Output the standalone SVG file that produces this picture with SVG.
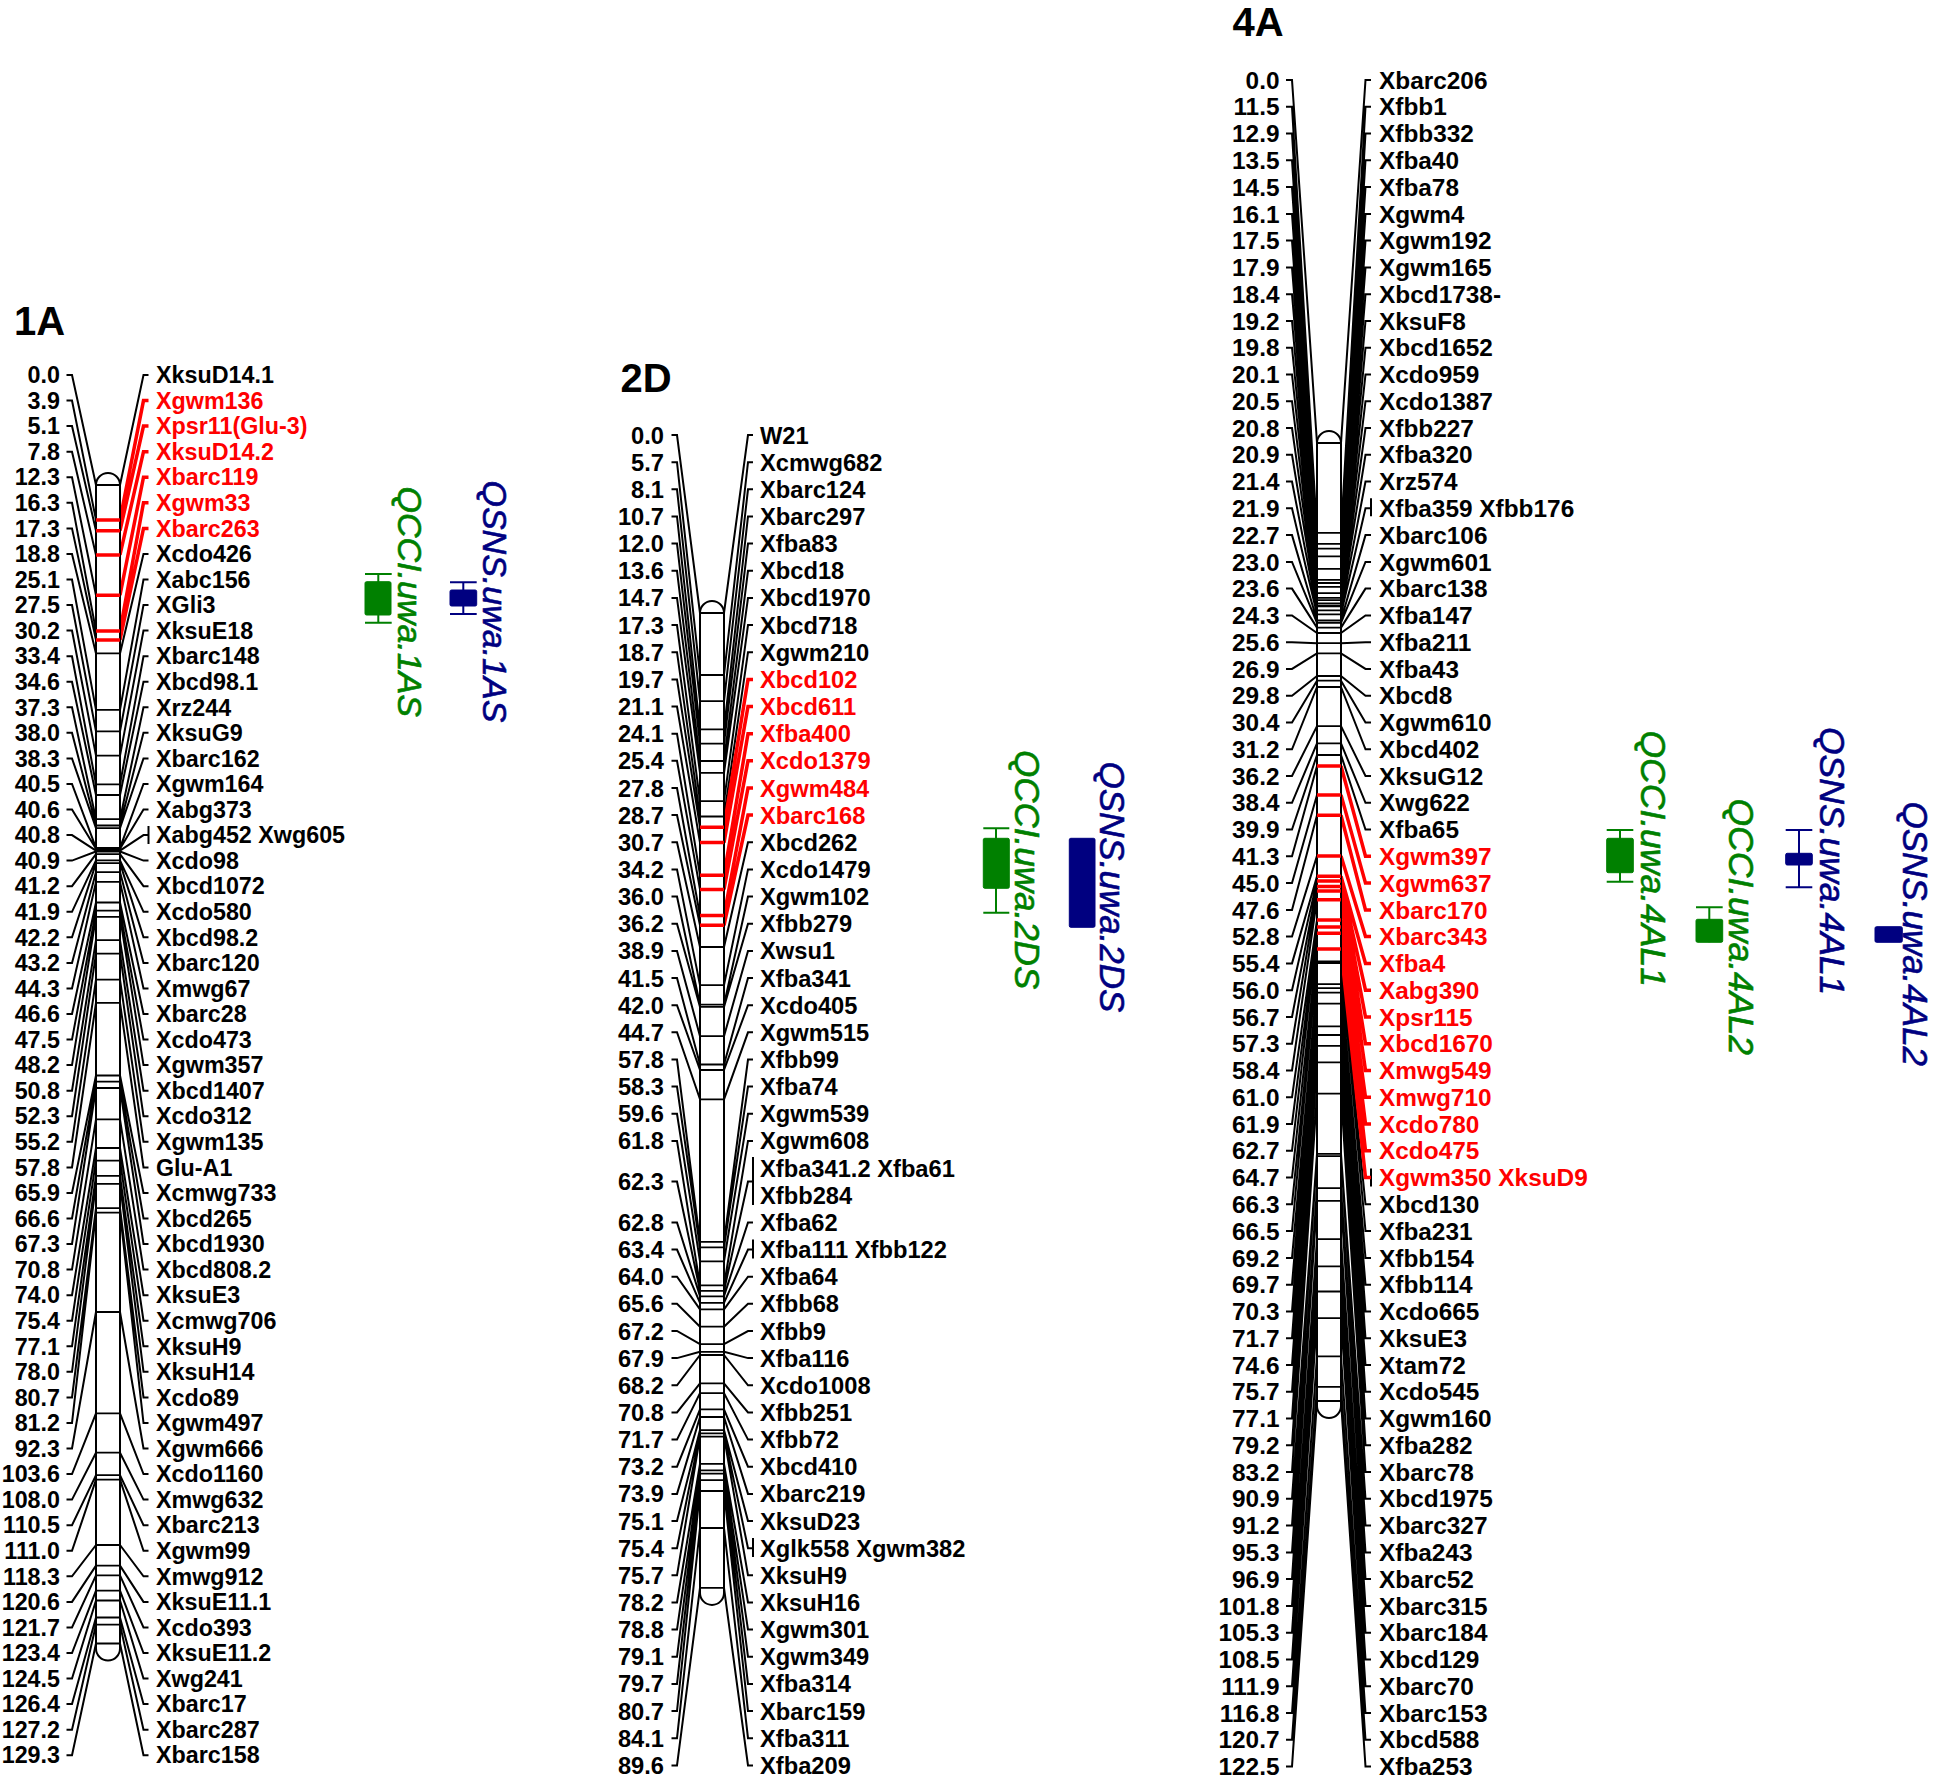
<svg xmlns="http://www.w3.org/2000/svg" width="1935" height="1781" viewBox="0 0 1935 1781">
<style>
.cn{fill:none;stroke:#000;stroke-width:2}
.rc{fill:none;stroke:#f00;stroke-width:3.5}
.br{fill:none;stroke:#000;stroke-width:2}
.ch{fill:#fff;stroke:#000;stroke-width:2}
.mk{fill:none;stroke:#000;stroke-width:1.8}
.rm{fill:none;stroke:#f00;stroke-width:3.5}
text{font-family:"Liberation Sans",Arial,sans-serif}
.t{font-size:40px;font-weight:bold}
.p{font-weight:bold;text-anchor:end}
.n{font-weight:bold}
.red{fill:#f00}
.q{font-style:italic;stroke-width:0.6}
.g{fill:#008000;stroke:#008000}
.b{fill:#000080;stroke:#000080}
.gs{stroke:#008000;stroke-width:2;fill:none}
.bs{stroke:#000080;stroke-width:2;fill:none}
.gf{fill:#008000;stroke:#008000;stroke-width:1}
.bf{fill:#000080;stroke:#000080;stroke-width:1}
</style>
<rect width="1935" height="1781" fill="#fff"/>

<g id="connectors">
<path class="cn" d="M66.5 375H72L96 485M66.5 400.6H72L96 519.9M66.5 426.1H72L96 530.7M66.5 451.7H72L96 554.9M66.5 477.2H72L96 595.2M66.5 502.8H72L96 631M66.5 528.4H72L96 640M66.5 553.9H72L96 653.4M66.5 579.5H72L96 709.9M66.5 605H72L96 731.4M66.5 630.6H72L96 755.6M66.5 656.2H72L96 784.3M66.5 681.7H72L96 795M66.5 707.3H72L96 819.2M66.5 732.8H72L96 825.5M66.5 758.4H72L96 828.2M66.5 784H72L96 847.9M66.5 809.5H72L96 848.8M66.5 835.1H72L96 850.6M66.5 860.6H72L96 851.5M66.5 886.2H72L96 854.2M66.5 911.8H72L96 860.4M66.5 937.3H72L96 863.1M66.5 962.9H72L96 872.1M66.5 988.4H72L96 881.9M66.5 1014H72L96 902.5M66.5 1039.6H72L96 910.6M66.5 1065.1H72L96 916.9M66.5 1090.7H72L96 940.2M66.5 1116.2H72L96 953.6M66.5 1141.8H72L96 979.6M66.5 1167.4H72L96 1002.9M66.5 1192.9H72L96 1075.5M66.5 1218.5H72L96 1081.7M66.5 1244H72L96 1088M66.5 1269.6H72L96 1119.4M66.5 1295.2H72L96 1148M66.5 1320.7H72L96 1160.6M66.5 1346.3H72L96 1175.8M66.5 1371.8H72L96 1183.9M66.5 1397.4H72L96 1208.1M66.5 1423H72L96 1212.6M66.5 1448.5H72L96 1312M66.5 1474.1H72L96 1413.3M66.5 1499.6H72L96 1452.7M66.5 1525.2H72L96 1475.1M66.5 1550.8H72L96 1479.6M66.5 1576.3H72L96 1545M66.5 1601.9H72L96 1565.6M66.5 1627.4H72L96 1575.4M66.5 1653H72L96 1590.7M66.5 1678.6H72L96 1600.5M66.5 1704.1H72L96 1617.5M66.5 1729.7H72L96 1624.7M66.5 1755.2H72L96 1643.5"/>
<path class="cn" d="M120 485L143.5 375H148.5M120 653.4L143.5 553.9H148.5M120 709.9L143.5 579.5H148.5M120 731.4L143.5 605H148.5M120 755.6L143.5 630.6H148.5M120 784.3L143.5 656.2H148.5M120 795L143.5 681.7H148.5M120 819.2L143.5 707.3H148.5M120 825.5L143.5 732.8H148.5M120 828.2L143.5 758.4H148.5M120 847.9L143.5 784H148.5M120 848.8L143.5 809.5H148.5M120 850.6L143.5 835.1H148.5M120 851.5L143.5 860.6H148.5M120 854.2L143.5 886.2H148.5M120 860.4L143.5 911.8H148.5M120 863.1L143.5 937.3H148.5M120 872.1L143.5 962.9H148.5M120 881.9L143.5 988.4H148.5M120 902.5L143.5 1014H148.5M120 910.6L143.5 1039.6H148.5M120 916.9L143.5 1065.1H148.5M120 940.2L143.5 1090.7H148.5M120 953.6L143.5 1116.2H148.5M120 979.6L143.5 1141.8H148.5M120 1002.9L143.5 1167.4H148.5M120 1075.5L143.5 1192.9H148.5M120 1081.7L143.5 1218.5H148.5M120 1088L143.5 1244H148.5M120 1119.4L143.5 1269.6H148.5M120 1148L143.5 1295.2H148.5M120 1160.6L143.5 1320.7H148.5M120 1175.8L143.5 1346.3H148.5M120 1183.9L143.5 1371.8H148.5M120 1208.1L143.5 1397.4H148.5M120 1212.6L143.5 1423H148.5M120 1312L143.5 1448.5H148.5M120 1413.3L143.5 1474.1H148.5M120 1452.7L143.5 1499.6H148.5M120 1475.1L143.5 1525.2H148.5M120 1479.6L143.5 1550.8H148.5M120 1545L143.5 1576.3H148.5M120 1565.6L143.5 1601.9H148.5M120 1575.4L143.5 1627.4H148.5M120 1590.7L143.5 1653H148.5M120 1600.5L143.5 1678.6H148.5M120 1617.5L143.5 1704.1H148.5M120 1624.7L143.5 1729.7H148.5M120 1643.5L143.5 1755.2H148.5"/>
<path class="br" d="M148.5 826V844"/>
<path class="rc" d="M120 519.9L143.5 400.6H148.5M120 530.7L143.5 426.1H148.5M120 554.9L143.5 451.7H148.5M120 595.2L143.5 477.2H148.5M120 631L143.5 502.8H148.5M120 640L143.5 528.4H148.5"/>

<path class="cn" d="M671.5 435H677L700 613M671.5 462.2H677L700 675M671.5 489.3H677L700 701.1M671.5 516.5H677L700 729.4M671.5 543.6H677L700 743.6M671.5 570.8H677L700 761M671.5 597.9H677L700 772.9M671.5 625.1H677L700 801.2M671.5 652.2H677L700 816.5M671.5 679.4H677L700 827.3M671.5 706.5H677L700 842.6M671.5 733.7H677L700 875.2M671.5 760.8H677L700 889.4M671.5 788H677L700 915.5M671.5 815.1H677L700 925.3M671.5 842.3H677L700 947M671.5 869.4H677L700 985.1M671.5 896.6H677L700 1004.7M671.5 923.7H677L700 1006.9M671.5 950.9H677L700 1036.2M671.5 978H677L700 1064.5M671.5 1005.2H677L700 1070M671.5 1032.3H677L700 1099.3M671.5 1059.5H677L700 1241.9M671.5 1086.6H677L700 1247.3M671.5 1113.8H677L700 1261.4M671.5 1140.9H677L700 1285.4M671.5 1181.6H677L700 1290.8M671.5 1222.4H677L700 1296.3M671.5 1249.5H677L700 1302.8M671.5 1276.7H677L700 1309.3M671.5 1303.8H677L700 1326.7M671.5 1331H677L700 1344.1M671.5 1358.1H677L700 1351.8M671.5 1385.3H677L700 1355M671.5 1412.4H677L700 1383.3M671.5 1439.6H677L700 1393.1M671.5 1466.7H677L700 1409.4M671.5 1493.9H677L700 1417M671.5 1521H677L700 1430.1M671.5 1548.2H677L700 1433.4M671.5 1575.3H677L700 1436.6M671.5 1602.5H677L700 1463.8M671.5 1629.6H677L700 1470.3M671.5 1656.8H677L700 1473.6M671.5 1683.9H677L700 1480.1M671.5 1711.1H677L700 1491M671.5 1738.2H677L700 1528M671.5 1765.4H677L700 1587.9"/>
<path class="cn" d="M724 613L748 435H753M724 675L748 462.2H753M724 701.1L748 489.3H753M724 729.4L748 516.5H753M724 743.6L748 543.6H753M724 761L748 570.8H753M724 772.9L748 597.9H753M724 801.2L748 625.1H753M724 816.5L748 652.2H753M724 947L748 842.3H753M724 985.1L748 869.4H753M724 1004.7L748 896.6H753M724 1006.9L748 923.7H753M724 1036.2L748 950.9H753M724 1064.5L748 978H753M724 1070L748 1005.2H753M724 1099.3L748 1032.3H753M724 1241.9L748 1059.5H753M724 1247.3L748 1086.6H753M724 1261.4L748 1113.8H753M724 1285.4L748 1140.9H753M724 1290.8L748 1181.6H753M724 1296.3L748 1222.4H753M724 1302.8L748 1249.5H753M724 1309.3L748 1276.7H753M724 1326.7L748 1303.8H753M724 1344.1L748 1331H753M724 1351.8L748 1358.1H753M724 1355L748 1385.3H753M724 1383.3L748 1412.4H753M724 1393.1L748 1439.6H753M724 1409.4L748 1466.7H753M724 1417L748 1493.9H753M724 1430.1L748 1521H753M724 1433.4L748 1548.2H753M724 1436.6L748 1575.3H753M724 1463.8L748 1602.5H753M724 1470.3L748 1629.6H753M724 1473.6L748 1656.8H753M724 1480.1L748 1683.9H753M724 1491L748 1711.1H753M724 1528L748 1738.2H753M724 1587.9L748 1765.4H753"/>
<path class="br" d="M753 1157V1205M753 1239.5V1258.5M753 1538V1557"/>
<path class="rc" d="M724 827.3L748 679.4H753M724 842.6L748 706.5H753M724 875.2L748 733.7H753M724 889.4L748 760.8H753M724 915.5L748 788H753M724 925.3L748 815.1H753"/>

<path class="cn" d="M1286 80H1292L1317 443M1286 106.8H1292L1317 532.9M1286 133.5H1292L1317 543.9M1286 160.3H1292L1317 548.6M1286 187.1H1292L1317 556.4M1286 213.9H1292L1317 568.9M1286 240.6H1292L1317 579.9M1286 267.4H1292L1317 583M1286 294.2H1292L1317 586.9M1286 320.9H1292L1317 593.1M1286 347.7H1292L1317 597.8M1286 374.5H1292L1317 600.2M1286 401.2H1292L1317 603.3M1286 428H1292L1317 605.7M1286 454.8H1292L1317 606.4M1286 481.6H1292L1317 610.4M1286 508.3H1292L1317 614.3M1286 535.1H1292L1317 620.5M1286 561.9H1292L1317 622.9M1286 588.6H1292L1317 627.6M1286 615.4H1292L1317 633M1286 642.2H1292L1317 643.2M1286 668.9H1292L1317 653.4M1286 695.7H1292L1317 676M1286 722.5H1292L1317 680.7M1286 749.3H1292L1317 687M1286 776H1292L1317 726.1M1286 802.8H1292L1317 743.3M1286 829.6H1292L1317 755M1286 856.3H1292L1317 766M1286 883.1H1292L1317 794.9M1286 909.9H1292L1317 815.2M1286 936.6H1292L1317 855.9M1286 963.4H1292L1317 876.2M1286 990.2H1292L1317 880.9M1286 1017H1292L1317 886.4M1286 1043.7H1292L1317 891.1M1286 1070.5H1292L1317 899.7M1286 1097.3H1292L1317 920M1286 1124H1292L1317 927.1M1286 1150.8H1292L1317 933.3M1286 1177.6H1292L1317 949M1286 1204.3H1292L1317 961.5M1286 1231.1H1292L1317 963M1286 1257.9H1292L1317 984.1M1286 1284.7H1292L1317 988.1M1286 1311.4H1292L1317 992.7M1286 1338.2H1292L1317 1003.7M1286 1365H1292L1317 1026.4M1286 1391.7H1292L1317 1035M1286 1418.5H1292L1317 1045.9M1286 1445.3H1292L1317 1062.3M1286 1472H1292L1317 1093.6M1286 1498.8H1292L1317 1153.8M1286 1525.6H1292L1317 1156.2M1286 1552.4H1292L1317 1188.2M1286 1579.1H1292L1317 1200.8M1286 1605.9H1292L1317 1239.1M1286 1632.7H1292L1317 1266.4M1286 1659.4H1292L1317 1291.5M1286 1686.2H1292L1317 1318.1M1286 1713H1292L1317 1356.4M1286 1739.7H1292L1317 1386.9M1286 1766.5H1292L1317 1401"/>
<path class="cn" d="M1341 443L1365.5 80H1371M1341 532.9L1365.5 106.8H1371M1341 543.9L1365.5 133.5H1371M1341 548.6L1365.5 160.3H1371M1341 556.4L1365.5 187.1H1371M1341 568.9L1365.5 213.9H1371M1341 579.9L1365.5 240.6H1371M1341 583L1365.5 267.4H1371M1341 586.9L1365.5 294.2H1371M1341 593.1L1365.5 320.9H1371M1341 597.8L1365.5 347.7H1371M1341 600.2L1365.5 374.5H1371M1341 603.3L1365.5 401.2H1371M1341 605.7L1365.5 428H1371M1341 606.4L1365.5 454.8H1371M1341 610.4L1365.5 481.6H1371M1341 614.3L1365.5 508.3H1371M1341 620.5L1365.5 535.1H1371M1341 622.9L1365.5 561.9H1371M1341 627.6L1365.5 588.6H1371M1341 633L1365.5 615.4H1371M1341 643.2L1365.5 642.2H1371M1341 653.4L1365.5 668.9H1371M1341 676L1365.5 695.7H1371M1341 680.7L1365.5 722.5H1371M1341 687L1365.5 749.3H1371M1341 726.1L1365.5 776H1371M1341 743.3L1365.5 802.8H1371M1341 755L1365.5 829.6H1371M1341 961.5L1365.5 1204.3H1371M1341 963L1365.5 1231.1H1371M1341 984.1L1365.5 1257.9H1371M1341 988.1L1365.5 1284.7H1371M1341 992.7L1365.5 1311.4H1371M1341 1003.7L1365.5 1338.2H1371M1341 1026.4L1365.5 1365H1371M1341 1035L1365.5 1391.7H1371M1341 1045.9L1365.5 1418.5H1371M1341 1062.3L1365.5 1445.3H1371M1341 1093.6L1365.5 1472H1371M1341 1153.8L1365.5 1498.8H1371M1341 1156.2L1365.5 1525.6H1371M1341 1188.2L1365.5 1552.4H1371M1341 1200.8L1365.5 1579.1H1371M1341 1239.1L1365.5 1605.9H1371M1341 1266.4L1365.5 1632.7H1371M1341 1291.5L1365.5 1659.4H1371M1341 1318.1L1365.5 1686.2H1371M1341 1356.4L1365.5 1713H1371M1341 1386.9L1365.5 1739.7H1371M1341 1401L1365.5 1766.5H1371"/>
<path class="br" d="M1371 498.3V516.3M1371 1168.6V1186.6"/>
<path class="rc" d="M1341 766L1365.5 856.3H1371M1341 794.9L1365.5 883.1H1371M1341 815.2L1365.5 909.9H1371M1341 855.9L1365.5 936.6H1371M1341 876.2L1365.5 963.4H1371M1341 880.9L1365.5 990.2H1371M1341 886.4L1365.5 1017H1371M1341 891.1L1365.5 1043.7H1371M1341 899.7L1365.5 1070.5H1371M1341 920L1365.5 1097.3H1371M1341 927.1L1365.5 1124H1371M1341 933.3L1365.5 1150.8H1371M1341 949L1365.5 1177.6H1371"/>
</g>

<g id="chr1A">
<path class="ch" d="M96 1648.5V485A12 12 0 0 1 120 485V1648.5A12 12 0 0 1 96 1648.5Z"/>
<path class="mk" d="M96 485H120M96 653.4H120M96 709.9H120M96 731.4H120M96 755.6H120M96 784.3H120M96 795H120M96 819.2H120M96 825.5H120M96 828.2H120M96 847.9H120M96 848.8H120M96 850.6H120M96 851.5H120M96 854.2H120M96 860.4H120M96 863.1H120M96 872.1H120M96 881.9H120M96 902.5H120M96 910.6H120M96 916.9H120M96 940.2H120M96 953.6H120M96 979.6H120M96 1002.9H120M96 1075.5H120M96 1081.7H120M96 1088H120M96 1119.4H120M96 1148H120M96 1160.6H120M96 1175.8H120M96 1183.9H120M96 1208.1H120M96 1212.6H120M96 1312H120M96 1413.3H120M96 1452.7H120M96 1475.1H120M96 1479.6H120M96 1545H120M96 1565.6H120M96 1575.4H120M96 1590.7H120M96 1600.5H120M96 1617.5H120M96 1624.7H120M96 1643.5H120"/>
<path class="rm" d="M96 519.9H120M96 530.7H120M96 554.9H120M96 595.2H120M96 631H120M96 640H120"/>
</g>

<g id="chr2D">
<path class="ch" d="M700 1592.9V613A12 12 0 0 1 724 613V1592.9A12 12 0 0 1 700 1592.9Z"/>
<path class="mk" d="M700 613H724M700 675H724M700 701.1H724M700 729.4H724M700 743.6H724M700 761H724M700 772.9H724M700 801.2H724M700 816.5H724M700 947H724M700 985.1H724M700 1004.7H724M700 1006.9H724M700 1036.2H724M700 1064.5H724M700 1070H724M700 1099.3H724M700 1241.9H724M700 1247.3H724M700 1261.4H724M700 1285.4H724M700 1290.8H724M700 1296.3H724M700 1302.8H724M700 1309.3H724M700 1326.7H724M700 1344.1H724M700 1351.8H724M700 1355H724M700 1383.3H724M700 1393.1H724M700 1409.4H724M700 1417H724M700 1430.1H724M700 1433.4H724M700 1436.6H724M700 1463.8H724M700 1470.3H724M700 1473.6H724M700 1480.1H724M700 1491H724M700 1528H724M700 1587.9H724"/>
<path class="rm" d="M700 827.3H724M700 842.6H724M700 875.2H724M700 889.4H724M700 915.5H724M700 925.3H724"/>
</g>

<g id="chr4A">
<path class="ch" d="M1317 1406V443A12 12 0 0 1 1341 443V1406A12 12 0 0 1 1317 1406Z"/>
<path class="mk" d="M1317 443H1341M1317 532.9H1341M1317 543.9H1341M1317 548.6H1341M1317 556.4H1341M1317 568.9H1341M1317 579.9H1341M1317 583H1341M1317 586.9H1341M1317 593.1H1341M1317 597.8H1341M1317 600.2H1341M1317 603.3H1341M1317 605.7H1341M1317 606.4H1341M1317 610.4H1341M1317 614.3H1341M1317 620.5H1341M1317 622.9H1341M1317 627.6H1341M1317 633H1341M1317 643.2H1341M1317 653.4H1341M1317 676H1341M1317 680.7H1341M1317 687H1341M1317 726.1H1341M1317 743.3H1341M1317 755H1341M1317 961.5H1341M1317 963H1341M1317 984.1H1341M1317 988.1H1341M1317 992.7H1341M1317 1003.7H1341M1317 1026.4H1341M1317 1035H1341M1317 1045.9H1341M1317 1062.3H1341M1317 1093.6H1341M1317 1153.8H1341M1317 1156.2H1341M1317 1188.2H1341M1317 1200.8H1341M1317 1239.1H1341M1317 1266.4H1341M1317 1291.5H1341M1317 1318.1H1341M1317 1356.4H1341M1317 1386.9H1341M1317 1401H1341"/>
<path class="rm" d="M1317 766H1341M1317 794.9H1341M1317 815.2H1341M1317 855.9H1341M1317 876.2H1341M1317 880.9H1341M1317 886.4H1341M1317 891.1H1341M1317 899.7H1341M1317 920H1341M1317 927.1H1341M1317 933.3H1341M1317 949H1341"/>
</g>

<g id="titles">
<text class="t" x="14" y="335">1A</text>
<text class="t" x="620.5" y="391.7">2D</text>
<text class="t" x="1232.5" y="36">4A</text>
</g>

<g id="labels1A" font-size="23.3" transform="translate(0,8.3)">
<g class="p">
<text x="60" y="375">0.0</text><text x="60" y="400.6">3.9</text><text x="60" y="426.1">5.1</text><text x="60" y="451.7">7.8</text><text x="60" y="477.2">12.3</text><text x="60" y="502.8">16.3</text><text x="60" y="528.4">17.3</text><text x="60" y="553.9">18.8</text><text x="60" y="579.5">25.1</text><text x="60" y="605">27.5</text><text x="60" y="630.6">30.2</text><text x="60" y="656.2">33.4</text><text x="60" y="681.7">34.6</text><text x="60" y="707.3">37.3</text><text x="60" y="732.8">38.0</text><text x="60" y="758.4">38.3</text><text x="60" y="784">40.5</text><text x="60" y="809.5">40.6</text><text x="60" y="835.1">40.8</text><text x="60" y="860.6">40.9</text><text x="60" y="886.2">41.2</text><text x="60" y="911.8">41.9</text><text x="60" y="937.3">42.2</text><text x="60" y="962.9">43.2</text><text x="60" y="988.4">44.3</text><text x="60" y="1014">46.6</text><text x="60" y="1039.6">47.5</text><text x="60" y="1065.1">48.2</text><text x="60" y="1090.7">50.8</text><text x="60" y="1116.2">52.3</text><text x="60" y="1141.8">55.2</text><text x="60" y="1167.4">57.8</text><text x="60" y="1192.9">65.9</text><text x="60" y="1218.5">66.6</text><text x="60" y="1244">67.3</text><text x="60" y="1269.6">70.8</text><text x="60" y="1295.2">74.0</text><text x="60" y="1320.7">75.4</text><text x="60" y="1346.3">77.1</text><text x="60" y="1371.8">78.0</text><text x="60" y="1397.4">80.7</text><text x="60" y="1423">81.2</text><text x="60" y="1448.5">92.3</text><text x="60" y="1474.1">103.6</text><text x="60" y="1499.6">108.0</text><text x="60" y="1525.2">110.5</text><text x="60" y="1550.8">111.0</text><text x="60" y="1576.3">118.3</text><text x="60" y="1601.9">120.6</text><text x="60" y="1627.4">121.7</text><text x="60" y="1653">123.4</text><text x="60" y="1678.6">124.5</text><text x="60" y="1704.1">126.4</text><text x="60" y="1729.7">127.2</text><text x="60" y="1755.2">129.3</text>
</g>
<g class="n">
<text x="156" y="375">XksuD14.1</text><text class="red" x="156" y="400.6">Xgwm136</text><text class="red" x="156" y="426.1">Xpsr11(Glu-3)</text><text class="red" x="156" y="451.7">XksuD14.2</text><text class="red" x="156" y="477.2">Xbarc119</text><text class="red" x="156" y="502.8">Xgwm33</text><text class="red" x="156" y="528.4">Xbarc263</text><text x="156" y="553.9">Xcdo426</text><text x="156" y="579.5">Xabc156</text><text x="156" y="605">XGli3</text><text x="156" y="630.6">XksuE18</text><text x="156" y="656.2">Xbarc148</text><text x="156" y="681.7">Xbcd98.1</text><text x="156" y="707.3">Xrz244</text><text x="156" y="732.8">XksuG9</text><text x="156" y="758.4">Xbarc162</text><text x="156" y="784">Xgwm164</text><text x="156" y="809.5">Xabg373</text><text x="156" y="835.1">Xabg452 Xwg605</text><text x="156" y="860.6">Xcdo98</text><text x="156" y="886.2">Xbcd1072</text><text x="156" y="911.8">Xcdo580</text><text x="156" y="937.3">Xbcd98.2</text><text x="156" y="962.9">Xbarc120</text><text x="156" y="988.4">Xmwg67</text><text x="156" y="1014">Xbarc28</text><text x="156" y="1039.6">Xcdo473</text><text x="156" y="1065.1">Xgwm357</text><text x="156" y="1090.7">Xbcd1407</text><text x="156" y="1116.2">Xcdo312</text><text x="156" y="1141.8">Xgwm135</text><text x="156" y="1167.4">Glu-A1</text><text x="156" y="1192.9">Xcmwg733</text><text x="156" y="1218.5">Xbcd265</text><text x="156" y="1244">Xbcd1930</text><text x="156" y="1269.6">Xbcd808.2</text><text x="156" y="1295.2">XksuE3</text><text x="156" y="1320.7">Xcmwg706</text><text x="156" y="1346.3">XksuH9</text><text x="156" y="1371.8">XksuH14</text><text x="156" y="1397.4">Xcdo89</text><text x="156" y="1423">Xgwm497</text><text x="156" y="1448.5">Xgwm666</text><text x="156" y="1474.1">Xcdo1160</text><text x="156" y="1499.6">Xmwg632</text><text x="156" y="1525.2">Xbarc213</text><text x="156" y="1550.8">Xgwm99</text><text x="156" y="1576.3">Xmwg912</text><text x="156" y="1601.9">XksuE11.1</text><text x="156" y="1627.4">Xcdo393</text><text x="156" y="1653">XksuE11.2</text><text x="156" y="1678.6">Xwg241</text><text x="156" y="1704.1">Xbarc17</text><text x="156" y="1729.7">Xbarc287</text><text x="156" y="1755.2">Xbarc158</text>
</g>
</g>

<g id="labels2D" font-size="23.7" transform="translate(0,8.5)">
<g class="p">
<text x="664" y="435">0.0</text><text x="664" y="462.2">5.7</text><text x="664" y="489.3">8.1</text><text x="664" y="516.5">10.7</text><text x="664" y="543.6">12.0</text><text x="664" y="570.8">13.6</text><text x="664" y="597.9">14.7</text><text x="664" y="625.1">17.3</text><text x="664" y="652.2">18.7</text><text x="664" y="679.4">19.7</text><text x="664" y="706.5">21.1</text><text x="664" y="733.7">24.1</text><text x="664" y="760.8">25.4</text><text x="664" y="788">27.8</text><text x="664" y="815.1">28.7</text><text x="664" y="842.3">30.7</text><text x="664" y="869.4">34.2</text><text x="664" y="896.6">36.0</text><text x="664" y="923.7">36.2</text><text x="664" y="950.9">38.9</text><text x="664" y="978">41.5</text><text x="664" y="1005.2">42.0</text><text x="664" y="1032.3">44.7</text><text x="664" y="1059.5">57.8</text><text x="664" y="1086.6">58.3</text><text x="664" y="1113.8">59.6</text><text x="664" y="1140.9">61.8</text><text x="664" y="1181.6">62.3</text><text x="664" y="1222.4">62.8</text><text x="664" y="1249.5">63.4</text><text x="664" y="1276.7">64.0</text><text x="664" y="1303.8">65.6</text><text x="664" y="1331">67.2</text><text x="664" y="1358.1">67.9</text><text x="664" y="1385.3">68.2</text><text x="664" y="1412.4">70.8</text><text x="664" y="1439.6">71.7</text><text x="664" y="1466.7">73.2</text><text x="664" y="1493.9">73.9</text><text x="664" y="1521">75.1</text><text x="664" y="1548.2">75.4</text><text x="664" y="1575.3">75.7</text><text x="664" y="1602.5">78.2</text><text x="664" y="1629.6">78.8</text><text x="664" y="1656.8">79.1</text><text x="664" y="1683.9">79.7</text><text x="664" y="1711.1">80.7</text><text x="664" y="1738.2">84.1</text><text x="664" y="1765.4">89.6</text>
</g>
<g class="n">
<text x="760" y="435">W21</text><text x="760" y="462.2">Xcmwg682</text><text x="760" y="489.3">Xbarc124</text><text x="760" y="516.5">Xbarc297</text><text x="760" y="543.6">Xfba83</text><text x="760" y="570.8">Xbcd18</text><text x="760" y="597.9">Xbcd1970</text><text x="760" y="625.1">Xbcd718</text><text x="760" y="652.2">Xgwm210</text><text class="red" x="760" y="679.4">Xbcd102</text><text class="red" x="760" y="706.5">Xbcd611</text><text class="red" x="760" y="733.7">Xfba400</text><text class="red" x="760" y="760.8">Xcdo1379</text><text class="red" x="760" y="788">Xgwm484</text><text class="red" x="760" y="815.1">Xbarc168</text><text x="760" y="842.3">Xbcd262</text><text x="760" y="869.4">Xcdo1479</text><text x="760" y="896.6">Xgwm102</text><text x="760" y="923.7">Xfbb279</text><text x="760" y="950.9">Xwsu1</text><text x="760" y="978">Xfba341</text><text x="760" y="1005.2">Xcdo405</text><text x="760" y="1032.3">Xgwm515</text><text x="760" y="1059.5">Xfbb99</text><text x="760" y="1086.6">Xfba74</text><text x="760" y="1113.8">Xgwm539</text><text x="760" y="1140.9">Xgwm608</text><text x="760" y="1168.1">Xfba341.2 Xfba61</text><text x="760" y="1195.2">Xfbb284</text><text x="760" y="1222.4">Xfba62</text><text x="760" y="1249.5">Xfba111 Xfbb122</text><text x="760" y="1276.7">Xfba64</text><text x="760" y="1303.8">Xfbb68</text><text x="760" y="1331">Xfbb9</text><text x="760" y="1358.1">Xfba116</text><text x="760" y="1385.3">Xcdo1008</text><text x="760" y="1412.4">Xfbb251</text><text x="760" y="1439.6">Xfbb72</text><text x="760" y="1466.7">Xbcd410</text><text x="760" y="1493.9">Xbarc219</text><text x="760" y="1521">XksuD23</text><text x="760" y="1548.2">Xglk558 Xgwm382</text><text x="760" y="1575.3">XksuH9</text><text x="760" y="1602.5">XksuH16</text><text x="760" y="1629.6">Xgwm301</text><text x="760" y="1656.8">Xgwm349</text><text x="760" y="1683.9">Xfba314</text><text x="760" y="1711.1">Xbarc159</text><text x="760" y="1738.2">Xfba311</text><text x="760" y="1765.4">Xfba209</text>
</g>
</g>

<g id="labels4A" font-size="24.4" transform="translate(0,8.7)">
<g class="p">
<text x="1279.5" y="80">0.0</text><text x="1279.5" y="106.8">11.5</text><text x="1279.5" y="133.5">12.9</text><text x="1279.5" y="160.3">13.5</text><text x="1279.5" y="187.1">14.5</text><text x="1279.5" y="213.9">16.1</text><text x="1279.5" y="240.6">17.5</text><text x="1279.5" y="267.4">17.9</text><text x="1279.5" y="294.2">18.4</text><text x="1279.5" y="320.9">19.2</text><text x="1279.5" y="347.7">19.8</text><text x="1279.5" y="374.5">20.1</text><text x="1279.5" y="401.2">20.5</text><text x="1279.5" y="428">20.8</text><text x="1279.5" y="454.8">20.9</text><text x="1279.5" y="481.6">21.4</text><text x="1279.5" y="508.3">21.9</text><text x="1279.5" y="535.1">22.7</text><text x="1279.5" y="561.9">23.0</text><text x="1279.5" y="588.6">23.6</text><text x="1279.5" y="615.4">24.3</text><text x="1279.5" y="642.2">25.6</text><text x="1279.5" y="668.9">26.9</text><text x="1279.5" y="695.7">29.8</text><text x="1279.5" y="722.5">30.4</text><text x="1279.5" y="749.3">31.2</text><text x="1279.5" y="776">36.2</text><text x="1279.5" y="802.8">38.4</text><text x="1279.5" y="829.6">39.9</text><text x="1279.5" y="856.3">41.3</text><text x="1279.5" y="883.1">45.0</text><text x="1279.5" y="909.9">47.6</text><text x="1279.5" y="936.6">52.8</text><text x="1279.5" y="963.4">55.4</text><text x="1279.5" y="990.2">56.0</text><text x="1279.5" y="1017">56.7</text><text x="1279.5" y="1043.7">57.3</text><text x="1279.5" y="1070.5">58.4</text><text x="1279.5" y="1097.3">61.0</text><text x="1279.5" y="1124">61.9</text><text x="1279.5" y="1150.8">62.7</text><text x="1279.5" y="1177.6">64.7</text><text x="1279.5" y="1204.3">66.3</text><text x="1279.5" y="1231.1">66.5</text><text x="1279.5" y="1257.9">69.2</text><text x="1279.5" y="1284.7">69.7</text><text x="1279.5" y="1311.4">70.3</text><text x="1279.5" y="1338.2">71.7</text><text x="1279.5" y="1365">74.6</text><text x="1279.5" y="1391.7">75.7</text><text x="1279.5" y="1418.5">77.1</text><text x="1279.5" y="1445.3">79.2</text><text x="1279.5" y="1472">83.2</text><text x="1279.5" y="1498.8">90.9</text><text x="1279.5" y="1525.6">91.2</text><text x="1279.5" y="1552.4">95.3</text><text x="1279.5" y="1579.1">96.9</text><text x="1279.5" y="1605.9">101.8</text><text x="1279.5" y="1632.7">105.3</text><text x="1279.5" y="1659.4">108.5</text><text x="1279.5" y="1686.2">111.9</text><text x="1279.5" y="1713">116.8</text><text x="1279.5" y="1739.7">120.7</text><text x="1279.5" y="1766.5">122.5</text>
</g>
<g class="n">
<text x="1379" y="80">Xbarc206</text><text x="1379" y="106.8">Xfbb1</text><text x="1379" y="133.5">Xfbb332</text><text x="1379" y="160.3">Xfba40</text><text x="1379" y="187.1">Xfba78</text><text x="1379" y="213.9">Xgwm4</text><text x="1379" y="240.6">Xgwm192</text><text x="1379" y="267.4">Xgwm165</text><text x="1379" y="294.2">Xbcd1738-</text><text x="1379" y="320.9">XksuF8</text><text x="1379" y="347.7">Xbcd1652</text><text x="1379" y="374.5">Xcdo959</text><text x="1379" y="401.2">Xcdo1387</text><text x="1379" y="428">Xfbb227</text><text x="1379" y="454.8">Xfba320</text><text x="1379" y="481.6">Xrz574</text><text x="1379" y="508.3">Xfba359 Xfbb176</text><text x="1379" y="535.1">Xbarc106</text><text x="1379" y="561.9">Xgwm601</text><text x="1379" y="588.6">Xbarc138</text><text x="1379" y="615.4">Xfba147</text><text x="1379" y="642.2">Xfba211</text><text x="1379" y="668.9">Xfba43</text><text x="1379" y="695.7">Xbcd8</text><text x="1379" y="722.5">Xgwm610</text><text x="1379" y="749.3">Xbcd402</text><text x="1379" y="776">XksuG12</text><text x="1379" y="802.8">Xwg622</text><text x="1379" y="829.6">Xfba65</text><text class="red" x="1379" y="856.3">Xgwm397</text><text class="red" x="1379" y="883.1">Xgwm637</text><text class="red" x="1379" y="909.9">Xbarc170</text><text class="red" x="1379" y="936.6">Xbarc343</text><text class="red" x="1379" y="963.4">Xfba4</text><text class="red" x="1379" y="990.2">Xabg390</text><text class="red" x="1379" y="1017">Xpsr115</text><text class="red" x="1379" y="1043.7">Xbcd1670</text><text class="red" x="1379" y="1070.5">Xmwg549</text><text class="red" x="1379" y="1097.3">Xmwg710</text><text class="red" x="1379" y="1124">Xcdo780</text><text class="red" x="1379" y="1150.8">Xcdo475</text><text class="red" x="1379" y="1177.6">Xgwm350 XksuD9</text><text x="1379" y="1204.3">Xbcd130</text><text x="1379" y="1231.1">Xfba231</text><text x="1379" y="1257.9">Xfbb154</text><text x="1379" y="1284.7">Xfbb114</text><text x="1379" y="1311.4">Xcdo665</text><text x="1379" y="1338.2">XksuE3</text><text x="1379" y="1365">Xtam72</text><text x="1379" y="1391.7">Xcdo545</text><text x="1379" y="1418.5">Xgwm160</text><text x="1379" y="1445.3">Xfba282</text><text x="1379" y="1472">Xbarc78</text><text x="1379" y="1498.8">Xbcd1975</text><text x="1379" y="1525.6">Xbarc327</text><text x="1379" y="1552.4">Xfba243</text><text x="1379" y="1579.1">Xbarc52</text><text x="1379" y="1605.9">Xbarc315</text><text x="1379" y="1632.7">Xbarc184</text><text x="1379" y="1659.4">Xbcd129</text><text x="1379" y="1686.2">Xbarc70</text><text x="1379" y="1713">Xbarc153</text><text x="1379" y="1739.7">Xbcd588</text><text x="1379" y="1766.5">Xfba253</text>
</g>
</g>

<g id="qtl-QCCI-1AS">
<path class="gs" d="M378.3 574V622.7M365 574H391.7M365 622.7H391.7"/>
<rect class="gf" x="365" y="581.7" width="26" height="33.3" rx="1.5"/>
<text class="q g" font-size="34" transform="translate(398,486.5) rotate(90)">QCCI.uwa.1AS</text>
</g>
<g id="qtl-QSNS-1AS">
<path class="bs" d="M463.3 582.3V614M450 582.3H476.7M450 614H476.7"/>
<rect class="bf" x="450" y="590" width="26.7" height="16" rx="1.5"/>
<text class="q b" font-size="34" transform="translate(483,480.5) rotate(90)">QSNS.uwa.1AS</text>
</g>
<g id="qtl-QCCI-2DS">
<path class="gs" d="M996 828.3V912.7M983.3 828.3H1009.3M983.3 912.7H1009.3"/>
<rect class="gf" x="983.3" y="838.3" width="26" height="50" rx="1.5"/>
<text class="q g" font-size="35" transform="translate(1015,750) rotate(90)">QCCI.uwa.2DS</text>
</g>
<g id="qtl-QSNS-2DS">
<rect class="bf" x="1069.3" y="838.3" width="25.7" height="89" rx="1.5"/>
<text class="q b" font-size="35" transform="translate(1100,761.5) rotate(90)">QSNS.uwa.2DS</text>
</g>
<g id="qtl-QCCI-4AL1">
<path class="gs" d="M1620 830V881.7M1606.7 830H1633.3M1606.7 881.7H1633.3"/>
<rect class="gf" x="1606.7" y="838.3" width="26.6" height="34.4" rx="1.5"/>
<text class="q g" font-size="35.5" transform="translate(1641,730.5) rotate(90)">QCCI.uwa.4AL1</text>
</g>
<g id="qtl-QCCI-4AL2">
<path class="gs" d="M1709.3 907.3V942.3M1696 907.3H1722.7"/>
<rect class="gf" x="1696" y="919.3" width="26.7" height="23" rx="1.5"/>
<text class="q g" font-size="35.5" transform="translate(1729,798.5) rotate(90)">QCCI.uwa.4AL2</text>
</g>
<g id="qtl-QSNS-4AL1">
<path class="bs" d="M1799 830V887.3M1785.7 830H1812.3M1785.7 887.3H1812.3"/>
<rect class="bf" x="1785.7" y="853.3" width="26.6" height="11.7" rx="1.5"/>
<text class="q b" font-size="35.5" transform="translate(1820,727) rotate(90)">QSNS.uwa.4AL1</text>
</g>
<g id="qtl-QSNS-4AL2">
<rect class="bf" x="1875" y="926.7" width="27.3" height="15.6" rx="1.5"/>
<text class="q b" font-size="35" transform="translate(1902.5,801.5) rotate(90)">QSNS.uwa.4AL2</text>
</g>
</svg>
